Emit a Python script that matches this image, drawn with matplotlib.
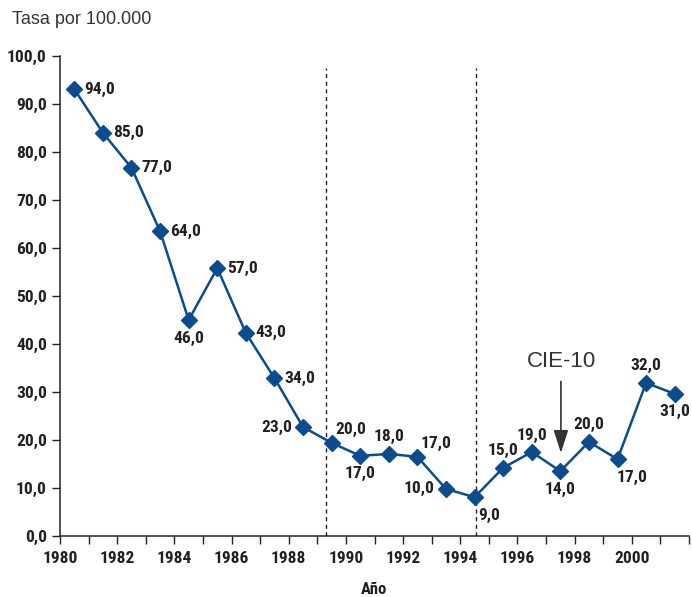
import matplotlib
matplotlib.use("Agg")
import matplotlib.pyplot as plt
from matplotlib import font_manager
from matplotlib.font_manager import FontProperties
import numpy as np

# === Données ===
annees = np.arange(1980, 2002) + 0.5
taux = [93.1, 84.0, 76.7, 63.5, 45.0, 55.8, 42.3, 32.9, 22.7, 19.4, 16.7,
        17.1, 16.5, 9.8, 8.1, 14.2, 17.5, 13.5, 19.6, 16.0, 31.9, 29.6]
etiquettes = ["94,0", "85,0", "77,0", "64,0", "46,0", "57,0", "43,0", "34,0",
              "23,0", "20,0", "17,0", "18,0", "17,0", "10,0", "9,0", "15,0",
              "19,0", "14,0", "20,0", "17,0", "32,0", "31,0"]
# position des étiquettes : r droite, l gauche, a dessus, b dessous
pos_etiq = ["r", "r", "r", "r", "b", "r", "r", "r", "l", "ar", "b", "a",
            "ar", "l", "br", "a", "a", "b", "a", "br", "a", "b"]
ruptures = [1989.3, 1994.55]
yticks = np.arange(0, 101, 10)


# === Recherche d'une police étroite et grasse ===
def _num(v, table, defaut):
    if isinstance(v, str):
        return table.get(v, defaut)
    return v


choix = []
for f in font_manager.fontManager.ttflist:
    w = _num(f.weight, font_manager.weight_dict, 400)
    s = _num(f.stretch, font_manager.stretch_dict, 500)
    etroit = s < 500 or "Narrow" in f.name or "Condensed" in f.name
    if etroit and w >= 600 and f.style == "normal":
        rang = 0 if "Liberation" in f.name else (1 if "Roboto" in f.name else 2)
        choix.append((rang, -w, f.fname))
choix.sort()


def police(taille):
    if choix:
        return FontProperties(fname=choix[0][2], size=taille)
    return FontProperties(family="Roboto", weight="bold", size=taille)


COND = police(12.5)
NORMAL = dict(family="Liberation Sans")

BLEU = "#0B4C8F"
TEXTE = "#231F20"

fig = plt.figure(figsize=(6.92, 5.97), dpi=100)
ax = fig.add_axes([60 / 692, 1 - 536 / 597, 629 / 692, 480 / 597])

ax.plot(annees, taux, color=BLEU, lw=1.8, marker="D", ms=8.5, mec=BLEU, mfc=BLEU, zorder=3)

offsets = {"r": (10, 0, "left", "center"), "l": (-11, 0, "right", "center"),
           "a": (0, 17, "center", "center"), "b": (0, -18, "center", "center"),
           "ar": (19, 13, "center", "center"), "br": (15, -18, "center", "center")}
for x, y, t, p in zip(annees, taux, etiquettes, pos_etiq):
    dx, dy, ha, va = offsets[p]
    ax.annotate(t, (x, y), xytext=(dx, dy), textcoords="offset pixels",
                ha=ha, va=va, color=TEXTE, annotation_clip=False,
                fontproperties=COND)

for r in ruptures:
    ax.plot([r, r], [0, 97.5], color="#222222", lw=1, ls=(0, (3, 2.5)), zorder=1)

# flèche CIE-10
ax.annotate("", xy=(1997.52, 17.3), xytext=(1997.52, 32.2),
            arrowprops=dict(arrowstyle="-|>,head_length=1.4,head_width=0.45",
                            color="#333333", lw=1.2, shrinkA=0, shrinkB=0))
ax.text(1997.55, 36.3, "CIE-10", ha="center", va="center", fontsize=16,
        color="#333333", **NORMAL)

ax.set_xlim(1980, 2002)
ax.set_ylim(0, 100)
ax.set_yticks(yticks)
ax.set_yticklabels([f"{v:.1f}".replace(".", ",") for v in yticks])
ax.set_xticks(np.arange(1980, 2001, 2))
ax.set_xticklabels([str(a) for a in range(1980, 2001, 2)])
ax.set_xticks(np.arange(1980, 2003, 1), minor=True)
for lab in ax.get_xticklabels() + ax.get_yticklabels():
    lab.set_fontproperties(COND)
ax.tick_params(axis="both", which="both", length=6, width=1, color="#222222",
               labelcolor=TEXTE)
ax.tick_params(axis="y", pad=3.5)
ax.tick_params(axis="x", pad=5)
for s in ["top", "right"]:
    ax.spines[s].set_visible(False)
for s in ["left", "bottom"]:
    ax.spines[s].set_linewidth(1.1)
    ax.spines[s].set_color("#222222")

ax.set_xlabel("Año", color=TEXTE, labelpad=11, fontproperties=police(12))
fig.text(12 / 692, 1 - 20 / 597, "Tasa por 100.000", ha="left", va="center",
         fontsize=13, color="#333333", **NORMAL)

fig.savefig("out.png", dpi=100)
